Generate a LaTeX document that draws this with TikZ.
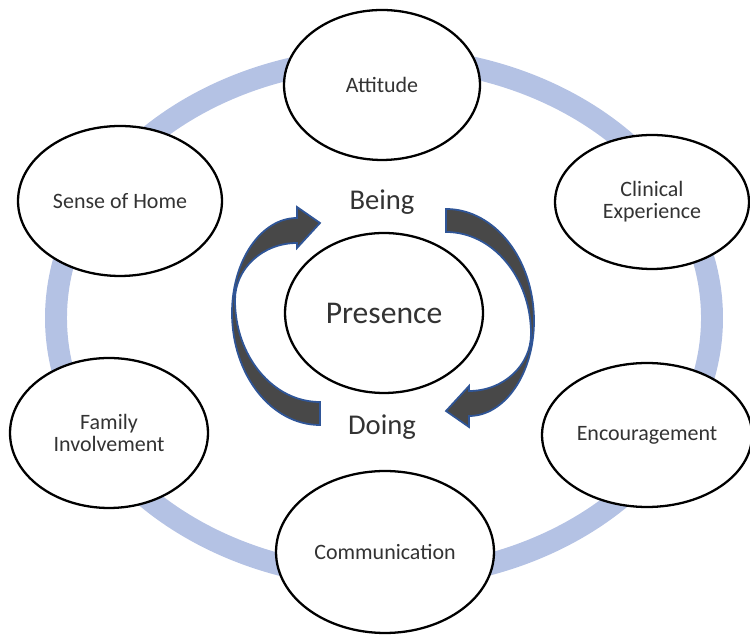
\documentclass[tikz,border=0pt]{standalone}
\usepackage{fontspec}
\setmainfont{Carlito}
\usetikzlibrary{shapes.geometric}

\definecolor{ringblue}{RGB}{180,194,228}
\definecolor{arrowgray}{RGB}{72,72,72}
\definecolor{arrowedge}{RGB}{47,85,151}

\begin{document}
\begin{tikzpicture}[x=0.02cm, y=0.02cm,
    topic/.style={ellipse, draw, line width=1.3pt, fill=white, inner sep=0pt,
      align=center, text=black!80, font=\fontsize{12.5}{12.5}\selectfont},
    cycleword/.style={text=black!80, font=\fontsize{16.3}{16.3}\selectfont}]
  \useasboundingbox (0,0) rectangle (750,635);

  % Outer ring behind the topics
  \draw[ringblue, line width=12.5pt] (384,317) ellipse [x radius=328, y radius=260];

  % Curved arrows round the centre, the second one turned half way round
  \foreach \ang in {0,180}
    \filldraw[fill=arrowgray, draw=arrowedge, line width=1pt, rotate around={\ang:(383,318)}]
      (320,210) arc[start angle=270, end angle=180, x radius=88, y radius=112]
      arc[start angle=180, end angle=90, x radius=65, y radius=95]
      -- (297,428) -- (320,412) -- (297,387) -- (297,392)
      arc[start angle=90, end angle=180, x radius=62, y radius=57]
      arc[start angle=180, end angle=270, x radius=85, y radius=102]
      -- cycle;

  % Topics on the ring
  \node[topic, minimum width=3.92cm, minimum height=3cm] (attitude) at (382,550) {Attitude};
  \node[topic, minimum width=3.88cm, minimum height=2.68cm] (clinical) at (652,433) {Clinical\\Experience};
  \node[topic, minimum width=4.08cm, minimum height=3cm] (home) at (120,434) {Sense of Home};
  \node[topic, minimum width=3.96cm, minimum height=3cm] (family) at (109,202) {Family\\Involvement};
  \node[topic, minimum width=4.2cm, minimum height=2.88cm] (encourage) at (647,200) {Encouragement};
  \node[topic, minimum width=4.36cm, minimum height=3.24cm] (communication) at (385,83) {Communication};

  % Centre
  \node[topic, minimum width=3.96cm, minimum height=3.2cm, font=\fontsize{18}{18}\selectfont] (presence) at (384,322) {Presence};
  \node[cycleword] (being) at (382,433) {Being};
  \node[cycleword] (doing) at (382,208) {Doing};
\end{tikzpicture}
\end{document}
